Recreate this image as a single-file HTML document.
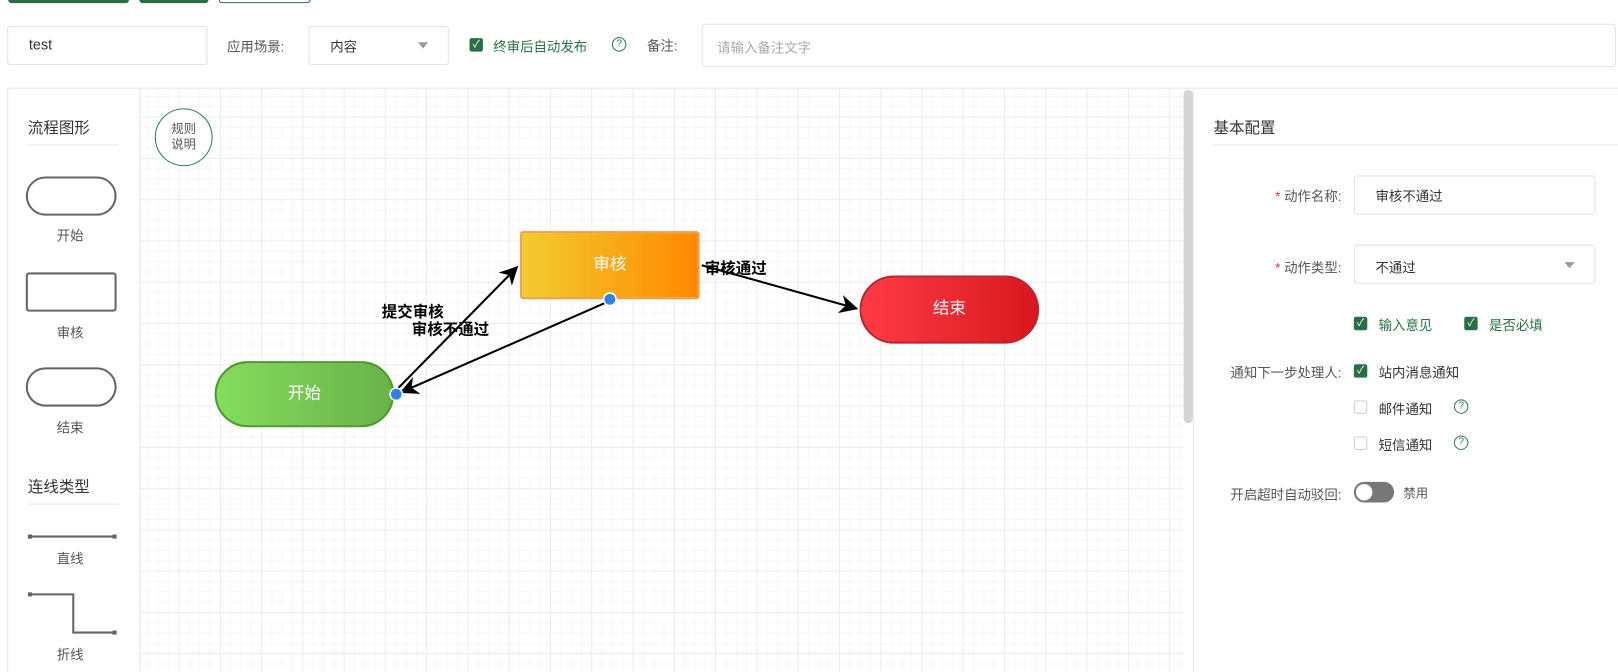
<!DOCTYPE html>
<html><head><meta charset="utf-8"><style>
*{box-sizing:border-box;margin:0;padding:0}
html,body{width:1618px;height:672px;overflow:hidden;background:#fff}
#w{position:absolute;left:0;top:0;width:1568px;height:651px;overflow:hidden;transform:scale(1.0319);transform-origin:0 0;font-family:"Liberation Sans","Noto Sans CJK SC",sans-serif;font-size:13px;color:#555}
.a{position:absolute}
.inp{position:absolute;border:1px solid #e2e2e2;border-radius:3px;background:#fff}
.cb{position:absolute;width:13px;height:13px;border-radius:2px;background:#2a6e46;color:#fff;font-size:10px;line-height:13px;text-align:center}
.cbo{position:absolute;width:13px;height:13px;border-radius:2px;border:1px solid #ccc;background:#fff}
.q{position:absolute;width:14px;height:14px;border:1px solid #2a7a4e;border-radius:50%;color:#2a7a4e;font-size:10px;line-height:12px;text-align:center}
.tri{position:absolute;width:0;height:0;border-left:5px solid transparent;border-right:5px solid transparent;border-top:6px solid #999}
.lbl{position:absolute;width:140px;text-align:right;font-size:13px;color:#555}
.grn{color:#2a6e46}
</style></head><body><div id="w">
<div class="a" style="left:8px;top:-4px;width:117px;height:7px;background:#2a6e46;border-radius:3px"></div>
<div class="a" style="left:135px;top:-4px;width:67px;height:7px;background:#2a6e46;border-radius:3px"></div>
<div class="a" style="left:212px;top:-4px;width:89px;height:7px;border:1px solid #2a6e46;border-radius:3px"></div>

<div class="inp" style="left:7px;top:25px;width:194px;height:38px"></div>
<div class="a" style="left:28px;top:35px;font-size:14px;color:#333">test</div>
<div class="a" style="left:220px;top:35px;font-size:13px">应用场景:</div>
<div class="inp" style="left:299px;top:25px;width:136px;height:38px"></div>
<div class="a" style="left:320px;top:35px;font-size:13px;color:#333">内容</div>
<div class="tri" style="left:405px;top:41px"></div>
<div class="cb" style="left:455px;top:37px">✓</div>
<div class="a grn" style="left:478px;top:35px;font-size:13px">终审后自动发布</div>
<div class="q" style="left:593px;top:36px">?</div>
<div class="a" style="left:627px;top:34px;font-size:13px">备注:</div>
<div class="inp" style="left:680px;top:23px;width:886px;height:42px"></div>
<div class="a" style="left:695px;top:36px;font-size:13px;color:#aaa">请输入备注文字</div>

<div class="a" style="left:7px;top:85px;width:1610px;height:700px;border:1px solid #e6e6e6"></div>
<div class="a" style="left:135px;top:86px;width:1012px;height:700px;border-left:1px solid #e6e6e6;
background-image:linear-gradient(#ececec 1px,transparent 1px),linear-gradient(90deg,#ececec 1px,transparent 1px),linear-gradient(#f6f6f6 1px,transparent 1px),linear-gradient(90deg,#f6f6f6 1px,transparent 1px);
background-size:40px 40px,40px 40px,10px 10px,10px 10px;background-position:-3px 27px,-3px 27px,-3px 7px,-3px 7px"></div>

<div class="a" style="left:27px;top:113px;font-size:15px;color:#333">流程图形</div>
<div class="a" style="left:27px;top:140px;width:88px;height:1px;background:#e6e6e6"></div>
<div class="a" style="left:25px;top:171px;width:88px;height:38px;border:2px solid #666;border-radius:19px"></div>
<div class="a" style="left:55px;top:218px">开始</div>
<div class="a" style="left:25px;top:264px;width:88px;height:38px;border:2px solid #666;border-radius:3px"></div>
<div class="a" style="left:55px;top:312px">审核</div>
<div class="a" style="left:25px;top:356px;width:88px;height:38px;border:2px solid #666;border-radius:19px"></div>
<div class="a" style="left:55px;top:404px">结束</div>
<div class="a" style="left:27px;top:461px;font-size:15px;color:#333">连线类型</div>
<div class="a" style="left:27px;top:488px;width:88px;height:1px;background:#e6e6e6"></div>
<svg class="a" style="left:0;top:500px" width="135" height="130"><g stroke="#666" stroke-width="2" fill="none"><line x1="29" y1="20" x2="111" y2="20"/><polyline points="29,76 71,76 71,113 111,113"/></g><g fill="#666"><rect x="27" y="18" width="4" height="4"/><rect x="109" y="18" width="4" height="4"/><rect x="27" y="74" width="4" height="4"/><rect x="109" y="111" width="4" height="4"/></g></svg>
<div class="a" style="left:55px;top:531px">直线</div>
<div class="a" style="left:55px;top:624px">折线</div>

<div class="a" style="left:150px;top:105px;width:56px;height:56px;border:1px solid #2e7d52;border-radius:50%;background:#fff;text-align:center;font-size:12px;line-height:15px;padding-top:12px;color:#555">规则<br>说明</div>

<div class="a" style="left:208px;top:350px;width:174px;height:64px;border:2px solid #4f9a2e;border-radius:32px;background:linear-gradient(90deg,#85dc5e,#69b24a);color:#fff;font-size:16px;text-align:center;line-height:60px">开始</div>
<div class="a" style="left:504px;top:224px;width:174px;height:66px;border:2px solid #f0a040;border-radius:3px;background:linear-gradient(90deg,#f2cb30,#ff8800);color:#fff;font-size:16px;text-align:center;line-height:62px">审核</div>
<div class="a" style="left:833px;top:267px;width:174px;height:66px;border:2px solid #b8262e;border-radius:33px;background:linear-gradient(90deg,#ff3c46,#d8171e);color:#fff;font-size:16px;text-align:center;line-height:62px">结束</div>

<svg class="a" style="left:0;top:0" width="1147" height="651">
<defs><marker id="m" viewBox="0 0 10 10" refX="9" refY="5" markerWidth="9" markerHeight="9" orient="auto"><path d="M0,0 L10,5 L0,10 L3,5z" fill="#000"/></marker></defs>
<g stroke="#000" stroke-width="2" fill="none">
<line x1="386" y1="376" x2="501" y2="259" marker-end="url(#m)"/>
<line x1="590" y1="292" x2="389" y2="380" marker-end="url(#m)"/>
<line x1="680" y1="257" x2="830" y2="299" marker-end="url(#m)"/>
</g>
<circle cx="591" cy="290" r="6" fill="#2d83e0" stroke="#fff" stroke-width="1.5"/>
<circle cx="384" cy="382" r="6" fill="#2d83e0" stroke="#fff" stroke-width="1.5"/>
</svg>
<div class="a" style="left:370px;top:291px;font-size:15px;font-weight:bold;color:#000">提交审核</div>
<div class="a" style="left:399px;top:308px;font-size:15px;font-weight:bold;color:#000">审核不通过</div>
<div class="a" style="left:683px;top:249px;font-size:15px;font-weight:bold;color:#000">审核通过</div>

<div class="a" style="left:1147px;top:87px;width:9px;height:323px;background:#d4d4d4;border-radius:5px"></div>
<div class="a" style="left:1156px;top:86px;width:1px;height:700px;background:#e6e6e6"></div>

<div class="a" style="left:1176px;top:113px;font-size:15px;color:#333">基本配置</div>
<div class="a" style="left:1176px;top:140px;width:419px;height:1px;background:#e6e6e6"></div>
<div class="lbl" style="left:1160px;top:180px"><span style="color:#e33">* </span>动作名称:</div>
<div class="inp" style="left:1312px;top:170px;width:234px;height:38px"></div>
<div class="a" style="left:1333px;top:180px;color:#333">审核不通过</div>
<div class="lbl" style="left:1160px;top:249px"><span style="color:#e33">* </span>动作类型:</div>
<div class="inp" style="left:1312px;top:237px;width:234px;height:38px"></div>
<div class="a" style="left:1333px;top:249px;color:#333">不通过</div>
<div class="tri" style="left:1516px;top:254px"></div>
<div class="cb" style="left:1312px;top:307px">✓</div><div class="a grn" style="left:1336px;top:305px">输入意见</div>
<div class="cb" style="left:1419px;top:307px">✓</div><div class="a grn" style="left:1443px;top:305px">是否必填</div>
<div class="lbl" style="left:1160px;top:351px">通知下一步处理人:</div>
<div class="cb" style="left:1312px;top:353px">✓</div><div class="a" style="left:1336px;top:351px;color:#333">站内消息通知</div>
<div class="cbo" style="left:1312px;top:388px"></div><div class="a" style="left:1336px;top:386px;color:#333">邮件通知</div><div class="q" style="left:1409px;top:387px">?</div>
<div class="cbo" style="left:1312px;top:423px"></div><div class="a" style="left:1336px;top:421px;color:#333">短信通知</div><div class="q" style="left:1409px;top:422px">?</div>
<div class="lbl" style="left:1160px;top:469px">开启超时自动驳回:</div>
<div class="a" style="left:1312px;top:467px;width:39px;height:20px;border-radius:10px;background:#777"></div>
<div class="a" style="left:1314px;top:469px;width:16px;height:16px;border-radius:50%;background:#fff"></div>
<div class="a" style="left:1360px;top:469px;color:#555;font-size:12px">禁用</div>
</div></body></html>
